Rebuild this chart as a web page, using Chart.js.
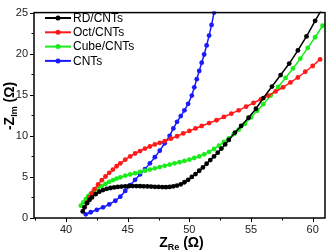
<!DOCTYPE html>
<html>
<head>
<meta charset="utf-8">
<script src="https://cdn.jsdelivr.net/npm/chart.js@4.4.0/dist/chart.umd.min.js"></script>
<style>
  html, body { margin: 0; padding: 0; background: #fff; }
  #wrap { width: 328px; height: 252px; }
</style>
</head>
<body>
<div id="wrap"><canvas id="eis"></canvas></div>
<script>
// Nyquist data (Z_Re, -Z_Im in ohm)
const seriesNames = ["RD/CNTs", "Oct/CNTs", "Cube/CNTs", "CNTs"];
const seriesColors = ["#000000", "#ff1a1a", "#1aeb1a", "#1a1aff"];

const rdX = [41.35, 41.5, 41.7, 41.9, 42.1, 42.4, 42.7, 43.0, 43.3, 43.6, 43.9, 44.2, 44.5, 44.8, 45.1, 45.4, 45.7, 46.0, 46.3, 46.6, 46.9, 47.2, 47.5, 47.8, 48.1, 48.4, 48.7, 49.0, 49.3, 49.6, 49.9, 50.2, 50.5, 50.8, 51.1, 51.4, 51.7, 52.0, 52.3, 52.6, 52.9, 53.2, 53.7, 54.2, 54.8, 55.4, 56.0, 56.7, 57.4, 58.1, 58.8, 59.5, 60.2, 60.7];
const rdY = [0.8, 1.3, 1.8, 2.2, 2.5, 2.9, 3.2, 3.4, 3.55, 3.65, 3.72, 3.78, 3.82, 3.85, 3.87, 3.88, 3.88, 3.87, 3.86, 3.84, 3.82, 3.8, 3.78, 3.76, 3.75, 3.78, 3.85, 3.95, 4.1, 4.35, 4.65, 5.0, 5.35, 5.75, 6.15, 6.6, 7.05, 7.5, 7.95, 8.45, 8.95, 9.5, 10.4, 11.2, 12.2, 13.3, 14.6, 16.0, 17.4, 18.8, 20.4, 22.1, 24.0, 25.3];

const octX = [41.5, 41.7, 41.9, 42.1, 42.3, 42.6, 42.9, 43.2, 43.5, 43.8, 44.1, 44.4, 44.8, 45.2, 45.6, 46.0, 46.4, 46.8, 47.2, 47.6, 48.0, 48.5, 49.0, 49.5, 50.0, 50.5, 51.0, 51.6, 52.2, 52.8, 53.4, 54.0, 54.6, 55.2, 55.8, 56.4, 57.0, 57.6, 58.2, 58.8, 59.4, 60.0, 60.6];
const octY = [1.3, 1.9, 2.5, 3.0, 3.5, 4.1, 4.6, 5.05, 5.5, 5.9, 6.3, 6.65, 7.1, 7.5, 7.85, 8.15, 8.45, 8.7, 8.95, 9.15, 9.35, 9.65, 9.95, 10.3, 10.6, 10.9, 11.2, 11.55, 11.9, 12.3, 12.7, 13.1, 13.55, 14.0, 14.45, 14.9, 15.4, 15.9, 16.5, 17.1, 17.8, 18.5, 19.3];

const cubeX = [41.2, 41.4, 41.6, 41.8, 42.0, 42.2, 42.4, 42.6, 42.9, 43.2, 43.5, 43.8, 44.1, 44.4, 44.8, 45.2, 45.6, 46.0, 46.4, 46.8, 47.2, 47.6, 48.0, 48.4, 48.8, 49.2, 49.6, 50.0, 50.4, 50.8, 51.2, 51.6, 52.0, 52.4, 52.8, 53.2, 53.6, 54.0, 54.5, 55.0, 55.5, 56.0, 56.6, 57.2, 57.8, 58.4, 59.0, 59.6, 60.2, 60.8];
const cubeY = [1.5, 1.9, 2.3, 2.65, 2.95, 3.2, 3.45, 3.65, 3.9, 4.15, 4.4, 4.6, 4.8, 4.95, 5.15, 5.3, 5.45, 5.6, 5.75, 5.9, 6.05, 6.2, 6.35, 6.5, 6.65, 6.8, 6.95, 7.1, 7.3, 7.5, 7.75, 8.05, 8.4, 8.8, 9.25, 9.7, 10.2, 10.75, 11.45, 12.25, 13.05, 13.85, 14.9, 15.95, 17.05, 18.2, 19.4, 20.7, 22.0, 23.4];

const cntX = [41.6, 42.0, 42.5, 43.0, 43.5, 44.0, 44.4, 44.8, 45.2, 45.6, 46.0, 46.4, 46.8, 47.2, 47.6, 48.0, 48.4, 48.7, 49.0, 49.3, 49.6, 49.9, 50.2, 50.4, 50.6, 50.8, 51.0, 51.2, 51.4, 51.6, 51.8, 52.0, 52.2];
const cntY = [0.45, 0.7, 1.0, 1.3, 1.65, 2.1, 2.6, 3.3, 4.0, 4.65, 5.3, 5.95, 6.65, 7.4, 8.2, 9.1, 10.0, 10.9, 11.7, 12.4, 13.1, 13.9, 14.9, 15.9, 16.9, 17.9, 18.9, 19.9, 21.0, 22.2, 23.5, 25.0, 26.6];

const xTicks = [37.5, 40, 42.5, 45, 47.5, 50, 52.5, 55, 57.5, 60];
const yTicks = [0, 2.5, 5, 7.5, 10, 12.5, 15, 17.5, 20, 22.5, 25];

const toPoints = (xs, ys) => xs.map((x, i) => ({ x: x, y: ys[i] }));
const allX = [rdX, octX, cubeX, cntX];
const allY = [rdY, octY, cubeY, cntY];

const FONT = "'Liberation Sans', Arial, sans-serif";

// axis titles, minor/major tick marks, frame and legend
const decorPlugin = {
  id: "decor",
  afterDraw(chart) {
    const ctx = chart.ctx;
    const a = chart.chartArea;
    const xs = chart.scales.x;
    const ys = chart.scales.y;
    ctx.save();
    ctx.strokeStyle = "#000";
    ctx.lineWidth = 1;
    xTicks.forEach((v) => {
      const px = Math.round(xs.getPixelForValue(v)) + 0.5;
      const len = v % 5 === 0 ? 4 : 2.5;
      ctx.beginPath();
      ctx.moveTo(px, a.bottom);
      ctx.lineTo(px, a.bottom + len);
      ctx.stroke();
    });
    yTicks.forEach((v) => {
      const py = Math.round(ys.getPixelForValue(v)) + 0.5;
      const len = v % 5 === 0 ? 4 : 2.5;
      ctx.beginPath();
      ctx.moveTo(a.left, py);
      ctx.lineTo(a.left - len, py);
      ctx.stroke();
    });
    // frame
    ctx.lineWidth = 1.5;
    ctx.strokeRect(a.left, a.top, a.right - a.left, a.bottom - a.top);

    // x title: Z_Re (Ω)
    ctx.fillStyle = "#000";
    ctx.textBaseline = "alphabetic";
    const drawParts = (parts, x0, y0) => {
      let x = x0;
      parts.forEach((p) => {
        ctx.font = p.font;
        ctx.fillText(p.text, x, y0 + p.dy);
        x += ctx.measureText(p.text).width;
      });
    };
    const measureParts = (parts) =>
      parts.reduce((w, p) => {
        ctx.font = p.font;
        return w + ctx.measureText(p.text).width;
      }, 0);
    const big = "bold 14px " + FONT;
    const small = "bold 9px " + FONT;
    const xParts = [
      { text: "Z", font: big, dy: 0 },
      { text: "Re", font: small, dy: 3 },
      { text: " (Ω)", font: big, dy: 0 },
    ];
    const xw = measureParts(xParts);
    drawParts(xParts, (a.left + a.right) / 2 - xw / 2 + 2, 247);

    const yParts = [
      { text: "-Z", font: big, dy: 0 },
      { text: "Im", font: small, dy: 3 },
      { text: " (Ω)", font: big, dy: 0 },
    ];
    const yw = measureParts(yParts);
    ctx.save();
    ctx.translate(14, 106);
    ctx.rotate(-Math.PI / 2);
    drawParts(yParts, -yw / 2, 0);
    ctx.restore();

    // legend inside top-left
    ctx.font = "12px " + FONT;
    ctx.textBaseline = "middle";
    seriesNames.forEach((name, i) => {
      const y = 18 + i * 14.3;
      ctx.strokeStyle = seriesColors[i];
      ctx.fillStyle = seriesColors[i];
      ctx.lineWidth = 2;
      ctx.beginPath();
      ctx.moveTo(45, y);
      ctx.lineTo(71, y);
      ctx.stroke();
      ctx.beginPath();
      ctx.arc(58, y, 2.5, 0, Math.PI * 2);
      ctx.fill();
      ctx.fillStyle = "#000";
      ctx.fillText(name, 73, y + 0.5);
    });
    ctx.restore();
  },
};

new Chart(document.getElementById("eis"), {
  type: "scatter",
  data: {
    datasets: seriesNames.map((name, i) => ({
      label: name,
      data: toPoints(allX[i], allY[i]),
      showLine: true,
      borderColor: seriesColors[i],
      backgroundColor: seriesColors[i],
      borderWidth: 1.5,
      pointRadius: 2.4,
      pointBorderWidth: 0,
      pointHoverRadius: 2.4,
      clip: 1,
    })),
  },
  options: {
    responsive: true,
    maintainAspectRatio: false,
    animation: false,
    events: [],
    layout: { padding: { top: 5, right: 3, left: 0, bottom: 0 } },
    plugins: {
      legend: { display: false },
      tooltip: { enabled: false },
    },
    scales: {
      x: {
        type: "linear",
        min: 37.4,
        max: 61,
        afterBuildTicks: (s) => {
          s.ticks = xTicks.map((v) => ({ value: v }));
        },
        afterFit: (s) => {
          s.height = 34;
        },
        grid: { display: false, drawTicks: false },
        border: { display: false },
        ticks: {
          autoSkip: false,
          maxRotation: 0,
          padding: 5,
          color: "#222",
          font: { family: FONT, size: 11 },
          callback: (v) => (v % 5 === 0 ? String(v) : ""),
        },
      },
      y: {
        type: "linear",
        min: 0,
        max: 25,
        afterBuildTicks: (s) => {
          s.ticks = yTicks.map((v) => ({ value: v }));
        },
        afterFit: (s) => {
          s.width = 34;
        },
        grid: { display: false, drawTicks: false },
        border: { display: false },
        ticks: {
          autoSkip: false,
          padding: 6,
          color: "#222",
          font: { family: FONT, size: 11 },
          callback: (v) => (v % 5 === 0 ? String(v) : ""),
        },
      },
    },
  },
  plugins: [decorPlugin],
});
</script>
</body>
</html>
